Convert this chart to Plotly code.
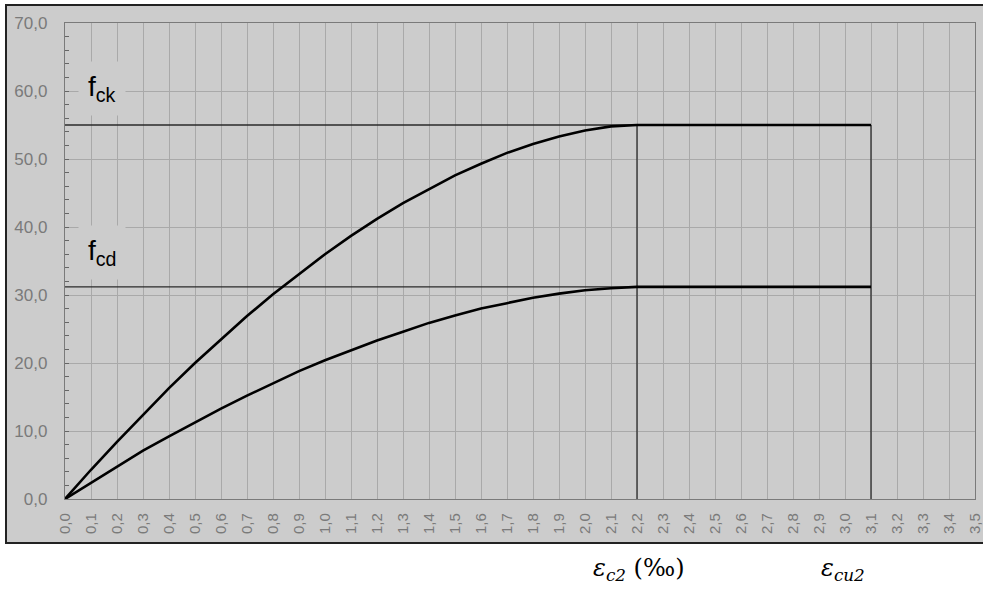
import plotly.graph_objects as go

# strain (per mille) and stresses (MPa)
eps = [0.0, 0.1, 0.2, 0.3, 0.4, 0.5, 0.6, 0.7, 0.8, 0.9, 1.0, 1.1,
       1.2, 1.3, 1.4, 1.5, 1.6, 1.7, 1.8, 1.9, 2.0, 2.1, 2.2, 3.1]
sigma_ck = [0.0, 4.3, 8.4, 12.4, 16.3, 20.0, 23.5, 26.9, 30.1, 33.1, 36.0, 38.7,
            41.2, 43.5, 45.6, 47.6, 49.3, 50.9, 52.2, 53.3, 54.2, 54.8, 55.0, 55.0]
sigma_cd = [0.0, 2.4, 4.8, 7.1, 9.2, 11.3, 13.3, 15.2, 17.0, 18.8, 20.4, 21.9,
            23.3, 24.6, 25.9, 27.0, 28.0, 28.8, 29.6, 30.2, 30.7, 31.0, 31.2, 31.2]
fck = 55.0
fcd = 31.2
eps_c2 = 2.2
eps_cu2 = 3.1

BG = "#cccccc"
GRID = "#a9a9a9"

fig = go.Figure()

thin = dict(color="#2a2a2a", width=1.3)
fig.add_trace(go.Scatter(x=[0, eps_c2], y=[fck, fck], mode="lines", line=thin, hoverinfo="skip"))
fig.add_trace(go.Scatter(x=[0, eps_c2], y=[fcd, fcd], mode="lines", line=thin, hoverinfo="skip"))
fig.add_trace(go.Scatter(x=[eps_c2, eps_c2], y=[0, fck], mode="lines", line=thin, hoverinfo="skip"))
fig.add_trace(go.Scatter(x=[eps_cu2, eps_cu2], y=[0, fck], mode="lines", line=thin, hoverinfo="skip"))

thick = dict(color="#000000", width=2.6)
fig.add_trace(go.Scatter(x=eps, y=sigma_ck, mode="lines", line=thick))
fig.add_trace(go.Scatter(x=eps, y=sigma_cd, mode="lines", line=thick))

# outer grey frame
fig.add_shape(type="rect", xref="paper", yref="paper",
              x0=(6 - 65) / 910, x1=(995 - 65) / 910,
              y0=(499 - 543) / 476, y1=(499 - 5) / 476,
              fillcolor=BG, line=dict(color="#222222", width=2), layer="below")

lab_font = dict(family="Liberation Sans, Arial, sans-serif", size=28, color="#000000")
fig.add_annotation(x=0.143, y=fck + 5.3, xref="x", yref="y", text="f<sub>ck</sub>",
                   showarrow=False, font=lab_font, bgcolor=BG, borderpad=9)
fig.add_annotation(x=0.143, y=fcd + 5.0, xref="x", yref="y", text="f<sub>cd</sub>",
                   showarrow=False, font=lab_font, bgcolor=BG, borderpad=9)

eps_font = dict(family="DejaVu Serif, Liberation Serif, serif", size=24, color="#000000")
fig.add_annotation(x=(639 - 65) / 910, y=(499 - 587) / 476, xref="paper", yref="paper",
                   text="<i>ε<sub>c2</sub></i> (‰)", showarrow=False, font=eps_font)
fig.add_annotation(x=(867 - 65) / 910, y=(499 - 587) / 476, xref="paper", yref="paper",
                   text="<i>ε<sub>cu2</sub></i>", showarrow=False, font=eps_font)

fig.update_layout(
    width=983, height=590,
    margin=dict(l=65, r=8, t=23, b=91, autoexpand=False),
    paper_bgcolor="#ffffff", plot_bgcolor=BG,
    showlegend=False,
    separators=",.",
)
fig.update_xaxes(
    range=[0, 3.5], dtick=0.1, tick0=0, tickformat=".1f", tickangle=-90,
    showgrid=True, gridcolor=GRID, gridwidth=1,
    showline=True, linecolor="#7a7a7a", linewidth=1.3, mirror=True,
    ticks="", zeroline=False, automargin=False, ticklabelstandoff=7,
    tickfont=dict(family="Liberation Sans, Arial, sans-serif", size=15, color="#7a7a7a"),
)
fig.update_yaxes(
    range=[0, 70], dtick=10, tick0=0, tickformat=".1f",
    showgrid=True, gridcolor=GRID, gridwidth=1,
    showline=True, linecolor="#7a7a7a", linewidth=1.3, mirror=True,
    ticks="inside", ticklen=4, tickcolor="#666666",
    minor=dict(dtick=2, ticks="inside", ticklen=4, tickcolor="#666666", showgrid=False),
    zeroline=False, ticklabelstandoff=13, automargin=False,
    tickfont=dict(family="Liberation Sans, Arial, sans-serif", size=17, color="#7a7a7a"),
)

fig.write_html("out.html")
